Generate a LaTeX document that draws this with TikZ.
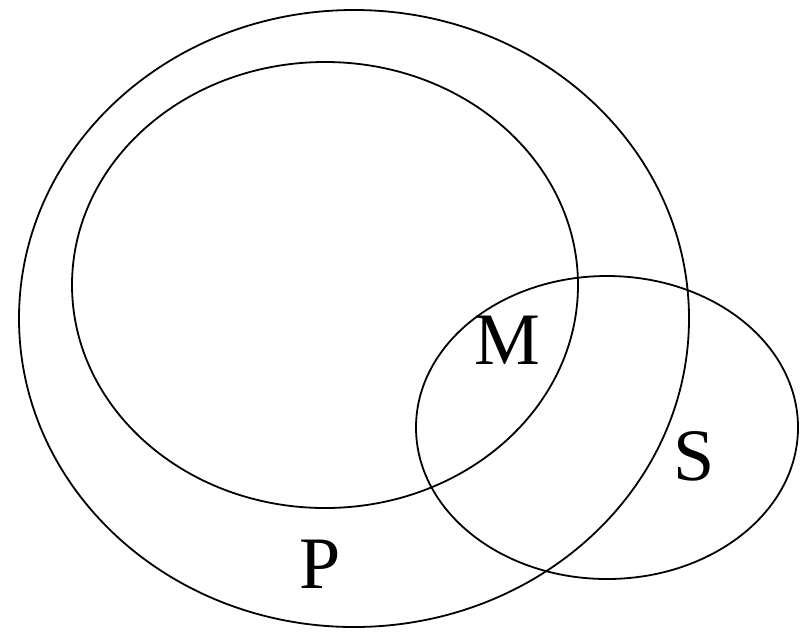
\documentclass[tikz,border=0pt]{standalone}
\usepackage{fontspec}
\setmainfont{Liberation Serif}
\begin{document}
\begin{tikzpicture}[x=1pt,y=-1pt,
  setline/.style={draw=black,line width=1.8pt},
  setlabel/.style={font=\fontsize{74}{74}\selectfont,inner sep=0pt}]
\useasboundingbox (0,0) rectangle (802,633);
\draw[setline] (354,318.5) ellipse [x radius=335, y radius=308.5];
\draw[setline] (325,285) ellipse [x radius=253, y radius=223];
\draw[setline] (607,427.5) ellipse [x radius=191, y radius=151.5];
\node[setlabel] (M) at (507,340) {M};
\node[setlabel] (S) at (694,456) {S};
\node[setlabel] (P) at (320,564) {P};
\end{tikzpicture}
\end{document}
